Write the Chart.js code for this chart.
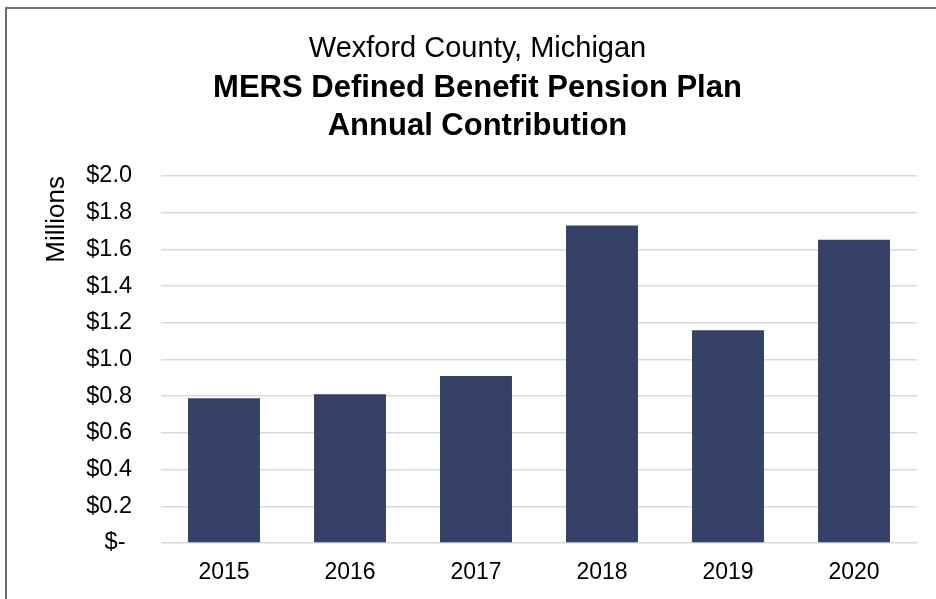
<!DOCTYPE html>
<html>
<head>
<meta charset="utf-8">
<title>MERS Defined Benefit Pension Plan - Annual Contribution</title>
<script src="https://cdn.jsdelivr.net/npm/chart.js@4.4.1/dist/chart.umd.min.js"></script>
<style>
    html, body { margin: 0; padding: 0; background: #fff; overflow: hidden; }
    #frame {
        position: absolute; left: 5px; top: 7px;
        width: 2000px; height: 2000px;
        border-left: 2px solid #6e6e6e; border-top: 2px solid #6e6e6e;
    }
    #wrap { position: absolute; left: 0; top: 0; width: 936px; height: 599px; }
</style>
</head>
<body>
<div id="frame"></div>
<div id="wrap"><canvas id="pensionChart"></canvas></div>
<script>
// Data (millions of dollars)
const years = ['2015', '2016', '2017', '2018', '2019', '2020'];
const contributions = [0.789, 0.811, 0.910, 1.730, 1.160, 1.652];
const yTicks = [0, 0.2, 0.4, 0.6, 0.8, 1.0, 1.2, 1.4, 1.6, 1.8, 2.0];

const FONT = 'Arial, "Liberation Sans", sans-serif';

function moneyLabel(value) {
    if (Math.abs(value) < 1e-9) return '$- ';
    return '$' + value.toFixed(1);
}

const ctx = document.getElementById('pensionChart').getContext('2d');
const pensionChart = new Chart(ctx, {
    type: 'bar',
    data: {
        labels: years,
        datasets: [{
            label: 'Annual Contribution',
            data: contributions,
            backgroundColor: '#354168',
            borderWidth: 0,
            categoryPercentage: 1,
            barPercentage: 0.571
        }]
    },
    options: {
        responsive: true,
        maintainAspectRatio: false,
        animation: false,
        layout: {
            // left padding keeps the titles centred like the original
            padding: { top: 30, left: 38, right: 19, bottom: 0 }
        },
        plugins: {
            legend: { display: false },
            tooltip: { enabled: false },
            subtitle: {
                display: true,
                text: 'Wexford County, Michigan',
                weight: 3000,
                color: '#000',
                font: { family: FONT, size: 29, weight: 'normal', lineHeight: '38px' },
                padding: { top: 0, bottom: 1 }
            },
            title: {
                display: true,
                text: ['MERS Defined Benefit Pension Plan', 'Annual Contribution'],
                color: '#000',
                font: { family: FONT, size: 31, weight: 'bold', lineHeight: '38px' },
                padding: { top: 0, bottom: 31 }
            }
        },
        scales: {
            x: {
                afterFit: (axis) => { axis.height = 56; },
                grid: { display: false, drawTicks: false },
                border: { display: false },
                ticks: {
                    color: '#000',
                    padding: 16,
                    font: { family: FONT, size: 23 }
                }
            },
            y: {
                min: 0,
                max: 2,
                afterBuildTicks: (axis) => {
                    axis.ticks = yTicks.map(v => ({ value: v }));
                },
                afterFit: (axis) => { axis.width = 123; },
                grid: {
                    color: '#d9d9d9',
                    lineWidth: 1.5,
                    drawTicks: false
                },
                border: { display: false },
                ticks: {
                    color: '#000',
                    padding: 29,
                    font: { family: FONT, size: 23.5 },
                    callback: (value) => moneyLabel(value)
                },
                title: {
                    display: true,
                    text: 'Millions',
                    align: 'end',
                    color: '#000',
                    font: { family: FONT, size: 26 },
                    padding: { top: 3, bottom: 0 }
                }
            }
        }
    }
});
</script>
</body>
</html>
